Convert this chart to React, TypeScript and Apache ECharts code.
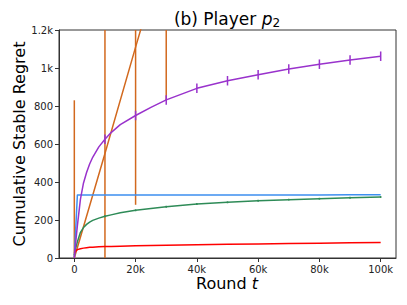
import React, { useEffect, useRef } from "react";
import * as echarts from "echarts";

// ---- data ----
const rounds = [0, 500, 1000, 2000, 3000, 4000, 5000, 6000, 8000, 10000, 12000, 15000, 20000, 25000, 30000, 40000, 50000, 60000, 70000, 80000, 90000, 100000];
const coarseRounds = [0, 10000, 20000, 30000, 40000, 50000, 60000, 70000, 80000, 90000, 100000];

const purpleValues = [0, 90, 170, 310, 395, 450, 495, 530, 585, 625, 660, 702, 750, 793, 832, 893, 933, 965, 995, 1020, 1042, 1062];
const blueValues = [5, 168, 331, 331, 331, 331, 331, 331, 331, 331, 331, 331, 331, 331, 331, 331, 331, 332, 332, 332, 333, 333];
const greenValues = [15, 55, 85, 135, 160, 177, 189, 198, 210, 220, 227, 238, 251, 261, 270, 284, 293, 301, 307, 312, 317, 321];
const redValues = [25, 38, 44, 49, 52, 54, 56, 57, 59, 60, 61, 62, 64, 66, 67, 70, 72, 74, 76, 78, 80, 82];

const orangeValues = [0, 550, 1110, 1660, 2210, 2770, 3320, 3880, 4430, 4990, 5540];
const orangeErr = [830, 830, 830, 830, 830, 830, 830, 830, 830, 830, 830];
const purpleErr = [0, 25, 25, 25, 25, 25, 25, 25, 25, 25, 25];
const greenErr = [0, 5, 5, 5, 5, 5, 5, 5, 5, 5, 5];

const xTicks = [0, 20000, 40000, 60000, 80000, 100000];

const COLORS = {
  orange: "#d2691e",
  purple: "#9932cc",
  blue: "#3d8ff0",
  green: "#2e8b57",
  red: "#ff0000",
};

const Y_MIN = 0;
const Y_MAX = 1200;
const FONT = "DejaVu Sans";

function lineSeries(color: string, xs: number[], ys: number[]) {
  return {
    type: "line",
    data: xs.map((x, i) => [x, ys[i]]),
    symbol: "none",
    showSymbol: false,
    smooth: false,
    clip: true,
    lineStyle: { color, width: 1.5, join: "round" },
    itemStyle: { color },
    emphasis: { disabled: true },
  };
}

function errorSeries(color: string, centers: number[], errs: number[]) {
  return {
    type: "custom",
    data: coarseRounds.map((x, i) => [x, centers[i] - errs[i], centers[i] + errs[i]]),
    encode: { x: 0, y: [1, 2] },
    renderItem: (params: any, api: any) => {
      const x = api.value(0);
      const lo = Math.max(api.value(1), Y_MIN);
      const hi = Math.min(api.value(2), Y_MAX);
      if (lo >= hi) return null;
      const a = api.coord([x, lo]);
      const b = api.coord([x, hi]);
      return {
        type: "line",
        shape: { x1: a[0], y1: a[1], x2: b[0], y2: b[1] },
        style: { stroke: color, lineWidth: 1.5 },
      };
    },
  };
}

function atCoarse(values: number[]) {
  return coarseRounds.map((x) => values[rounds.indexOf(x)]);
}

export default function App() {
  const ref = useRef<HTMLDivElement>(null);
  useEffect(() => {
    if (!ref.current) return;
    const chart = echarts.init(ref.current, undefined, { renderer: "svg" });
    const axisColor = "#333";
    const textColor = "#222";
    chart.setOption({
      animation: false,
      grid: {
        left: 59,
        right: 11,
        top: 30,
        bottom: 47,
        show: true,
        borderColor: axisColor,
        borderWidth: 1,
      },
      xAxis: {
        type: "value",
        min: -5000,
        max: 105000,
        splitLine: { show: false },
        axisLine: { onZero: false, lineStyle: { color: axisColor, width: 1 } },
        axisTick: { show: true, length: 4, customValues: xTicks, lineStyle: { color: axisColor } },
        axisLabel: {
          customValues: xTicks,
          margin: 6,
          color: textColor,
          fontSize: 10,
          fontFamily: FONT,
          formatter: (v: number) => (v === 0 ? "0" : v / 1000 + "k"),
        },
      },
      yAxis: {
        type: "value",
        min: Y_MIN,
        max: Y_MAX,
        interval: 200,
        splitLine: { show: false },
        axisLine: { show: true, onZero: false, lineStyle: { color: axisColor, width: 1 } },
        axisTick: { show: true, length: 4, lineStyle: { color: axisColor } },
        axisLabel: {
          margin: 6,
          color: textColor,
          fontSize: 10,
          fontFamily: FONT,
          formatter: (v: number) => (v >= 1000 ? v / 1000 + "k" : String(v)),
        },
      },
      series: [
        lineSeries(COLORS.orange, coarseRounds, orangeValues),
        errorSeries(COLORS.orange, orangeValues, orangeErr),
        lineSeries(COLORS.blue, rounds, blueValues),
        lineSeries(COLORS.green, rounds, greenValues),
        errorSeries(COLORS.green, atCoarse(greenValues), greenErr),
        lineSeries(COLORS.red, rounds, redValues),
        lineSeries(COLORS.purple, rounds, purpleValues),
        errorSeries(COLORS.purple, atCoarse(purpleValues), purpleErr),
      ],
      graphic: [
        {
          type: "text",
          x: 227,
          y: 19,
          style: {
            text: "(b) Player {i|p}{s|2}",
            fill: "#000",
            fontSize: 17,
            fontFamily: FONT,
            textAlign: "center",
            textVerticalAlign: "middle",
            align: "center",
            verticalAlign: "middle",
            rich: {
              i: { fontSize: 17, fontStyle: "italic", fontFamily: FONT, fill: "#000" },
              s: { fontSize: 12, fontFamily: FONT, fill: "#000", padding: [8, 0, 0, 0] },
            },
          },
        },
        {
          type: "text",
          x: 227,
          y: 283,
          style: {
            text: "Round {i|t}",
            fill: "#000",
            fontSize: 16,
            fontFamily: FONT,
            textAlign: "center",
            textVerticalAlign: "middle",
            align: "center",
            verticalAlign: "middle",
            rich: {
              i: { fontSize: 16, fontStyle: "italic", fontFamily: FONT, fill: "#000" },
            },
          },
        },
        {
          type: "text",
          x: 19,
          y: 144,
          rotation: Math.PI / 2,
          style: {
            text: "Cumulative Stable Regret",
            fill: "#000",
            fontSize: 16,
            fontFamily: FONT,
            textAlign: "center",
            textVerticalAlign: "middle",
            align: "center",
            verticalAlign: "middle",
          },
        },
      ],
    });
    return () => chart.dispose();
  }, []);
  return (
    <div
      ref={ref}
      style={{ position: "fixed", left: 0, top: 0, width: 407, height: 305, background: "#fff" }}
    />
  );
}
